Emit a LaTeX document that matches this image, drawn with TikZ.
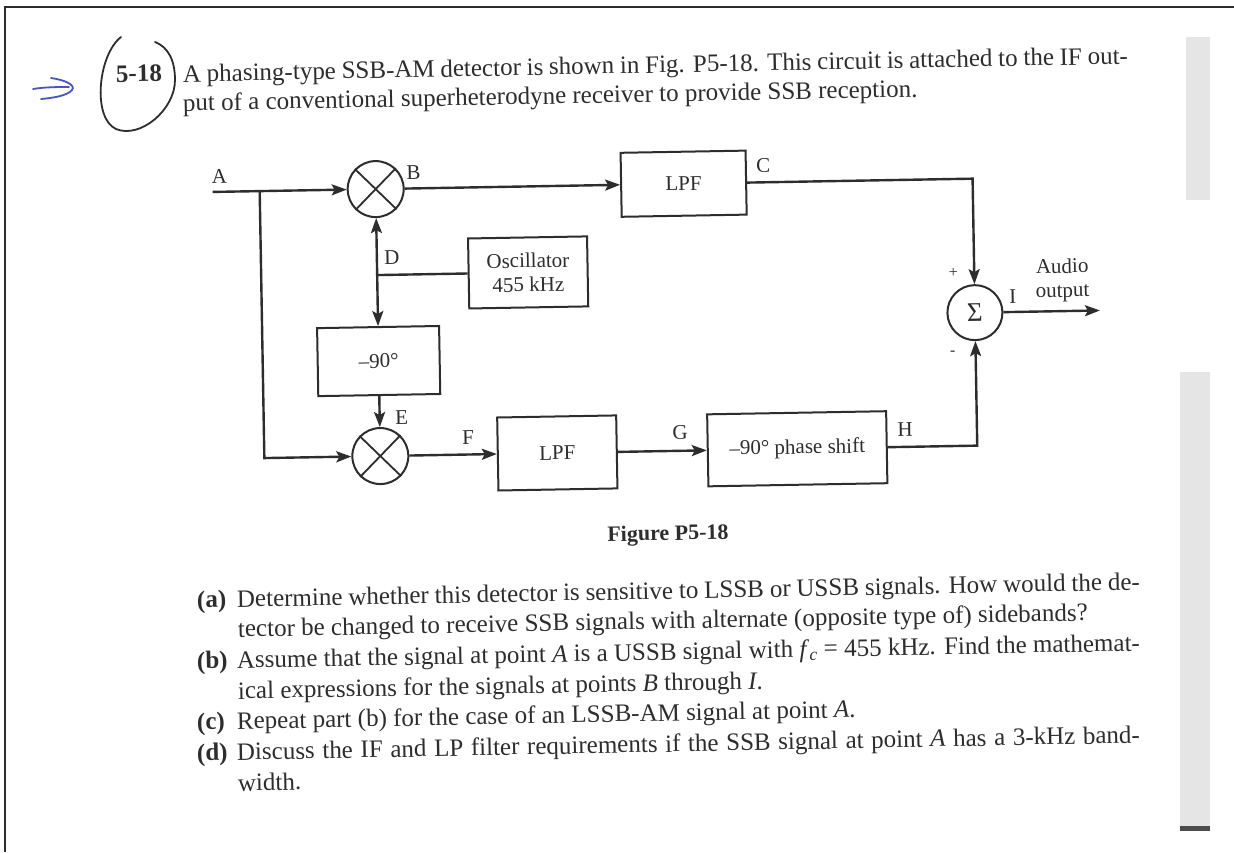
\documentclass[tikz,border=0pt]{standalone}
\usepackage{fontspec}
\setmainfont{Liberation Serif}
\usetikzlibrary{arrows.meta}
\definecolor{ink}{RGB}{45,45,45}
\definecolor{pen}{RGB}{70,85,195}
\definecolor{strip}{RGB}{229,229,229}
\newcommand\bodyfont{\fontsize{25}{30}\selectfont}
\newcommand\diagfont{\fontsize{21}{24}\selectfont}
\begin{document}
\begin{tikzpicture}[x=1pt,y=-1pt,
  wire/.style={draw=ink, line width=2.4pt},
  arr/.style={wire, -{Stealth[length=15pt,width=11pt,inset=3pt]}},
  blk/.style={draw=ink, line width=2pt, rectangle, inner sep=0pt, font=\diagfont, text=ink, align=center},
  mix/.style={draw=ink, line width=2pt, circle, minimum size=56pt, inner sep=0pt},
  lbl/.style={font=\diagfont, text=ink, inner sep=0pt},
  txt/.style={anchor=base west, inner sep=0pt, rotate=1.1, font=\bodyfont, text=ink}]
\useasboundingbox (0,0) rectangle (1234,852);
% page frame and scan strips
\fill[white] (0,0) rectangle (1234,852);
\draw[ink, line width=1.6pt] (5,852) -- (5,7) -- (1234,7);
\fill[strip] (1186,37) rectangle (1210,200);
\fill[strip] (1180,372) rectangle (1210,826);
\fill[ink!85] (1180,826) rectangle (1210,831);
% hand marks
\draw[pen, line width=1.8pt, line cap=round] (33,89) .. controls (45,87) and (58,87) .. (69,87);
\draw[pen, line width=1.8pt, line cap=round] (51,78) .. controls (65,80) and (76,85) .. (72,90) .. controls (67,96) and (52,98) .. (41,99);
\draw[ink, line width=1.8pt, line cap=round] (121,37) .. controls (98,55) and (92,118) .. (116,129) .. controls (140,139) and (175,110) .. (175,80) .. controls (175,60) and (168,47) .. (155,42);
% header text
\node[txt, font=\bodyfont\bfseries] (num) at (116,82) {5-18};
\node[txt] (h1) at (183,82) {\hbox to 945pt{A phasing-type SSB-AM detector is shown in Fig. P5-18. This circuit is attached to the IF out-}};
\node[txt] (h2) at (183,111) {put of a conventional superheterodyne receiver to provide SSB reception.};
% diagram
\begin{scope}[rotate around={1:(668,320)}, transform shape]
  \coordinate (A) at (215,184);
  \coordinate (J) at (262,184);
  \coordinate (D) at (378,270);
  \coordinate (out) at (1100,318);
  \node[mix] (m1) at (378,184) {};
  \node[mix] (m2) at (378,451) {};
  \node[blk, minimum width=125pt, minimum height=64pt] (lpf1) at (686,184) {LPF};
  \node[blk, minimum width=119pt, minimum height=70pt] (osc) at (529,270) {Oscillator\\455 kHz};
  \node[blk, minimum width=122pt, minimum height=68pt] (p90) at (378,356) {–90°};
  \node[blk, minimum width=119pt, minimum height=73pt] (lpf2) at (555,451) {LPF};
  \node[blk, minimum width=179pt, minimum height=72pt] (ph) at (795,451) {–90° phase shift};
  \node[draw=ink, line width=2pt, circle, minimum size=55pt, inner sep=0pt, font=\fontsize{27}{27}\selectfont, text=ink] (sum) at (975,318) {Σ};
  \foreach \m in {m1,m2} {
    \draw[ink, line width=1.8pt] (\m.north west) -- (\m.south east) (\m.north east) -- (\m.south west);
  }
  \draw[arr] (A) -- (m1);
  \draw[arr] (J) |- (m2);
  \draw[arr] (D) -- (m1);
  \draw[arr] (D) -- (p90);
  \draw[wire] (osc.west) -- (D);
  \draw[arr] (p90) -- (m2);
  \draw[arr] (m1) -- (lpf1);
  \draw[arr] (lpf1.east) -| (sum.north);
  \draw[arr] (m2) -- (lpf2);
  \draw[arr] (lpf2) -- (ph);
  \draw[arr] (ph.east) -| (sum.south);
  \draw[arr] (sum) -- (out);
  \node[lbl] (lA) at (222,169) {A};
  \node[lbl] (lB) at (416,168) {B};
  \node[lbl] (lC) at (766,167) {C};
  \node[lbl] (lD) at (393,253) {D};
  \node[lbl] (lE) at (400,413) {E};
  \node[lbl] (lF) at (466,434) {F};
  \node[lbl] (lG) at (678,433) {G};
  \node[lbl] (lH) at (903,434) {H};
  \node[lbl, font=\fontsize{16}{16}\selectfont] (lp) at (954,278) {+};
  \node[lbl, font=\fontsize{16}{16}\selectfont] (lm) at (952,358) {-};
  \node[lbl] (lI) at (1013,303) {I};
  \node[lbl, align=center] (aud) at (1063,287) {Audio\\output};
\end{scope}
\node[font=\fontsize{22}{24}\selectfont\bfseries, text=ink, rotate=1.1] (fig) at (668,535) {Figure P5-18};
% questions
\node[txt] (qa1) at (197,608) {\hbox to 943pt{\makebox[40pt][l]{\textbf{(a)}}Determine whether this detector is sensitive to LSSB or USSB signals. How would the de-}};
\node[txt] (qa2) at (238,637) {tector be changed to receive SSB signals with alternate (opposite type of) sidebands?};
\node[txt] (qb1) at (197,669) {\hbox to 943pt{\makebox[40pt][l]{\textbf{(b)}}Assume that the signal at point \textit{A} is a USSB signal with \textit{f}\textsubscript{\textit{c}} = 455 kHz. Find the mathemat-}};
\node[txt] (qb2) at (238,699) {ical expressions for the signals at points \textit{B} through \textit{I}.};
\node[txt] (qc) at (197,730) {\makebox[40pt][l]{\textbf{(c)}}Repeat part (b) for the case of an LSSB-AM signal at point \textit{A}.};
\node[txt] (qd1) at (197,761) {\hbox to 943pt{\makebox[40pt][l]{\textbf{(d)}}Discuss the IF and LP filter requirements if the SSB signal at point \textit{A} has a 3-kHz band-}};
\node[txt] (qd2) at (238,791) {width.};
\end{tikzpicture}
\end{document}
